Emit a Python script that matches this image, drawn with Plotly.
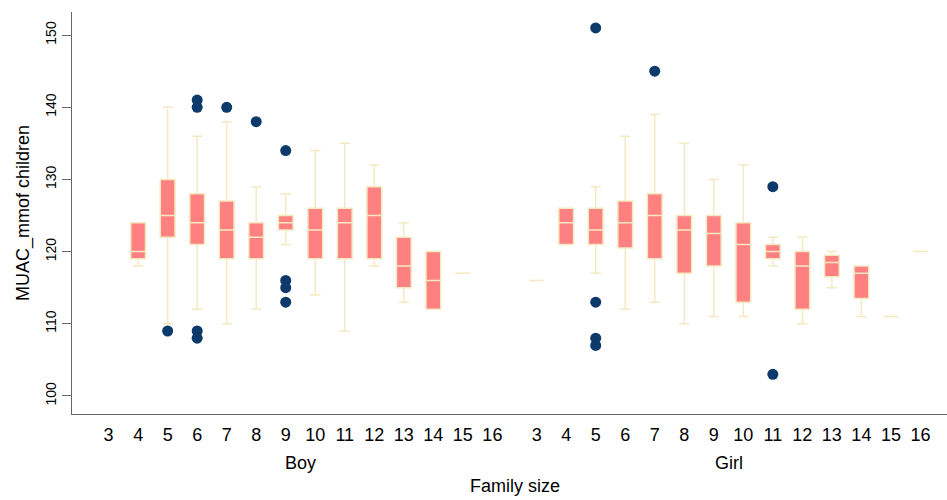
import plotly.graph_objects as go

# ---------------- data ----------------
family_sizes = list(range(3, 17))          # tick labels for each sex group
groups = ["Boy", "Girl"]

# Boy boxes
boy_sizes = [4, 5, 6, 7, 8, 9, 10, 11, 12, 13, 14, 15]
boy_q1 = [119, 122, 121, 119, 119, 123, 119, 119, 119, 115, 112, 117]
boy_med = [120, 125, 124, 123, 122, 124, 123, 124, 125, 118, 116, 117]
boy_q3 = [124, 130, 128, 127, 124, 125, 126, 126, 129, 122, 120, 117]
boy_lo = [118, 110, 112, 110, 112, 121, 114, 109, 118, 113, 112, 117]
boy_hi = [124, 140, 136, 138, 129, 128, 134, 135, 132, 124, 120, 117]
boy_out_size = [5, 6, 6, 6, 6, 7, 8, 9, 9, 9, 9]
boy_out_val = [109, 141, 140, 109, 108, 140, 138, 134, 116, 115, 113]

# Girl boxes
girl_sizes = [3, 4, 5, 6, 7, 8, 9, 10, 11, 12, 13, 14, 15, 16]
girl_q1 = [116, 121, 121, 120.5, 119, 117, 118, 113, 119, 112, 116.5, 113.5, 111, 120]
girl_med = [116, 124, 123, 124, 125, 123, 122.5, 121, 120, 118, 118.5, 117, 111, 120]
girl_q3 = [116, 126, 126, 127, 128, 125, 125, 124, 121, 120, 119.5, 118, 111, 120]
girl_lo = [116, 121, 117, 112, 113, 110, 111, 111, 118, 110, 115, 111, 111, 120]
girl_hi = [116, 126, 129, 136, 139, 135, 130, 132, 122, 122, 120, 118, 111, 120]
girl_out_size = [5, 5, 5, 5, 7, 11, 11]
girl_out_val = [151, 113, 108, 107, 145, 129, 103]

y_ticks = [100, 110, 120, 130, 140, 150]

# ---------------- layout helpers ----------------
GROUP_GAP = 14.5  # offset of the second group on the numeric axis


def pos(size, g):
    return (size - family_sizes[0]) + g * GROUP_GAP


BOX_FILL = "#FF8080"
BOX_LINE = "#F4EAC2"
OUT_COL = "#0D3A6B"
FONT = "Liberation Sans, Arial, sans-serif"

fig = go.Figure()

for g, (sizes, q1, med, q3, lo, hi) in enumerate([
    (boy_sizes, boy_q1, boy_med, boy_q3, boy_lo, boy_hi),
    (girl_sizes, girl_q1, girl_med, girl_q3, girl_lo, girl_hi),
]):
    fig.add_trace(go.Box(
        x=[pos(s, g) for s in sizes],
        q1=q1, median=med, q3=q3, lowerfence=lo, upperfence=hi,
        width=0.5, whiskerwidth=0.7,
        fillcolor=BOX_FILL,
        line=dict(color=BOX_LINE, width=1.5),
        boxpoints=False, showlegend=False, hoverinfo="skip",
    ))

for g, (osz, oval) in enumerate([(boy_out_size, boy_out_val), (girl_out_size, girl_out_val)]):
    fig.add_trace(go.Scatter(
        x=[pos(s, g) for s in osz], y=oval, mode="markers",
        marker=dict(color=OUT_COL, size=11, symbol="circle"),
        showlegend=False, hoverinfo="skip",
    ))

tickvals = [pos(s, g) for g in range(len(groups)) for s in family_sizes]
ticktext = [str(s) for g in range(len(groups)) for s in family_sizes]

fig.update_layout(
    width=947, height=500,
    margin=dict(l=72, r=0, t=12, b=86),
    paper_bgcolor="white", plot_bgcolor="white",
    font=dict(family=FONT, color="black"),
    xaxis=dict(
        range=[-1.24, 28.4], tickvals=tickvals, ticktext=ticktext,
        ticks="", showline=True, linecolor="#666", linewidth=1.2,
        showgrid=False, zeroline=False, tickfont=dict(size=18),
        ticklabelstandoff=4,
    ),
    yaxis=dict(
        range=[97.5, 153.2], tickvals=y_ticks, tickangle=-90,
        ticks="outside", ticklen=9, tickcolor="#666", tickwidth=1,
        showline=True, linecolor="#666", linewidth=1.2,
        showgrid=False, zeroline=False, tickfont=dict(size=14),
        title=dict(text="MUAC_mmof children", font=dict(size=18), standoff=8),
    ),
)

for g, name in enumerate(groups):
    fig.add_annotation(
        x=pos((family_sizes[0] + family_sizes[-1]) / 2, g), xref="x",
        y=-0.122, yref="paper", yanchor="middle",
        text=name, showarrow=False, font=dict(size=18),
    )

fig.add_annotation(
    x=(pos(family_sizes[0], 0) + pos(family_sizes[-1], 1)) / 2, xref="x",
    y=-0.21, yref="paper", yanchor="bottom",
    text="Family size", showarrow=False, font=dict(size=18),
)

fig.write_html("out.html")
